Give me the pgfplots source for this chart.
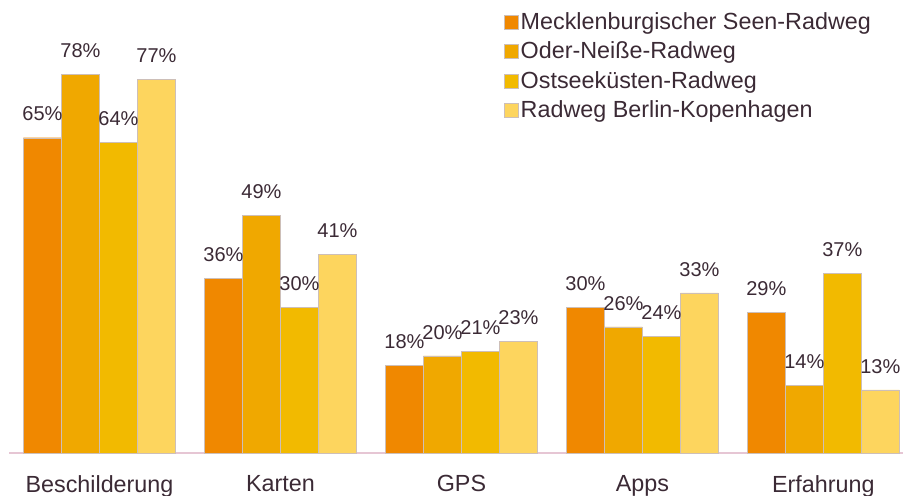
\documentclass[border=0pt]{standalone}
\usepackage{fontspec}
\setmainfont{Liberation Sans}
\usepackage{pgfplots}
\pgfplotsset{compat=1.18}
\definecolor{c1}{HTML}{F08800}
\definecolor{c2}{HTML}{F0A800}
\definecolor{c3}{HTML}{F2BA00}
\definecolor{c4}{HTML}{FDD55E}
\definecolor{ink}{HTML}{3B2A35}
\definecolor{baseline}{HTML}{E6C6D4}
\definecolor{edge}{HTML}{CDBFB8}
\begin{document}
\begin{tikzpicture}[x=1pt,y=1pt]
% canvas 903x496 px, 1px = 0.75pt
\path[use as bounding box] (0,0) rectangle (677.25pt,372pt);
\begin{axis}[
  at={(6.75pt,32.25pt)}, anchor=south west,
  scale only axis,
  width=670.5pt, height=339.75pt,
  xmin=-0.5, xmax=4.44,
  ymin=0, ymax=93.4,
  ybar=0pt, bar width=28.5pt,
  /pgf/number format/assume math mode=true,
  xtick={0,1,2,3,4},
  xticklabels={Beschilderung, Karten, GPS, Apps, Erfahrung},
  xticklabel style={font=\fontsize{17.5}{17.5}\selectfont, color=ink, yshift=-9pt},
  ytick=\empty,
  axis y line=none,
  axis x line*=bottom,
  x axis line style={draw=baseline, line width=1.5pt, -},
  tick style={draw=none},
  clip=false,
  nodes near coords={\pgfmathprintnumber{\pgfplotspointmeta}\%},
  every node near coord/.append style={font=\fontsize{15}{15}\selectfont, color=ink, yshift=9pt},
  legend style={font=\fontsize{17.5}{20}\selectfont, text=ink, draw=none, fill=none,
    at={(rel axis cs:0.553,0.979)}, anchor=north west, inner sep=0pt,
    row sep=3.9pt, nodes={inner sep=2pt}},
  legend cell align=left,
  legend image code/.code={\fill[#1] (0pt,-5.5pt) rectangle (10.5pt,5pt);},
]
\addplot[fill=c1, draw=edge, line width=0.3pt] coordinates {(0,65) (1,36) (2,18) (3,30) (4,29)};
\addlegendentry{Mecklenburgischer Seen-Radweg}
\addplot[fill=c2, draw=edge, line width=0.3pt] coordinates {(0,78) (1,49) (2,20) (3,26) (4,14)};
\addlegendentry{Oder-Neiße-Radweg}
\addplot[fill=c3, draw=edge, line width=0.3pt] coordinates {(0,64) (1,30) (2,21) (3,24) (4,37)};
\addlegendentry{Ostseeküsten-Radweg}
\addplot[fill=c4, draw=edge, line width=0.3pt] coordinates {(0,77) (1,41) (2,23) (3,33) (4,13)};
\addlegendentry{Radweg Berlin-Kopenhagen}
\end{axis}
\end{tikzpicture}
\end{document}
